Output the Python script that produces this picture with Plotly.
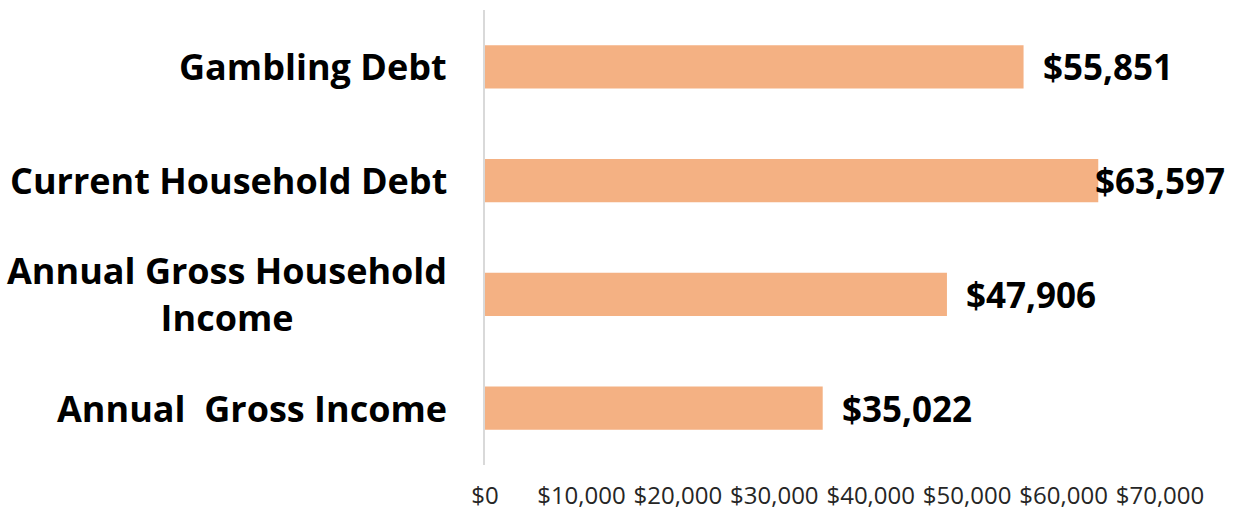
import plotly.graph_objects as go

categories = ["Gambling Debt", "Current Household Debt",
              "Annual Gross Household<br>Income", "Annual\u00a0 Gross Income"]
values = [55851, 63597, 47906, 35022]
value_labels = ["$55,851", "$63,597", "$47,906", "$35,022"]
tick_vals = [0, 10000, 20000, 30000, 40000, 50000, 60000, 70000]
tick_text = ["$0", "$10,000", "$20,000", "$30,000", "$40,000", "$50,000", "$60,000", "$70,000"]

XMAX = 70000
BAR_COLOR = "#F4B183"
FONT = "Open Sans"

fig = go.Figure()
fig.add_trace(go.Bar(
    x=values, y=categories, orientation="h",
    marker=dict(color=BAR_COLOR, line=dict(width=0)),
    hoverinfo="skip",
))

annotations = []
for cat in categories:
    annotations.append(dict(
        x=0, xref="paper", y=cat, yref="y",
        text=cat, showarrow=False, xanchor="right", yanchor="middle",
        align="center", xshift=-36,
        font=dict(family=FONT, size=36, color="#000000", weight="bold"),
    ))
for cat, v, lab in zip(categories, values, value_labels):
    near_edge = v > 0.85 * XMAX
    annotations.append(dict(
        x=v, xref="x", y=cat, yref="y",
        text=lab, showarrow=False, xanchor="left", yanchor="middle",
        xshift=-5 if near_edge else 17,
        font=dict(family=FONT, size=35, color="#000000", weight="bold"),
    ))

fig.update_layout(
    width=1239, height=512,
    margin=dict(l=485, r=79, t=10, b=47),
    paper_bgcolor="white", plot_bgcolor="white",
    showlegend=False,
    bargap=0.62,
    annotations=annotations,
    xaxis=dict(
        range=[0, XMAX], tickvals=tick_vals, ticktext=tick_text,
        showgrid=False, zeroline=False, showline=False,
        ticks="outside", ticklen=9, tickcolor="rgba(0,0,0,0)",
        tickfont=dict(family=FONT, size=24, color="#262626"),
        automargin=False, fixedrange=True,
    ),
    yaxis=dict(
        autorange="reversed", showticklabels=False,
        showgrid=False, zeroline=False,
        showline=True, linecolor="#D9D9D9", linewidth=1.5,
        ticks="", automargin=False, fixedrange=True,
    ),
)

fig.write_html("out.html", config={"displayModeBar": False},
               post_script="document.body.style.margin='0';document.body.style.overflow='hidden';")
